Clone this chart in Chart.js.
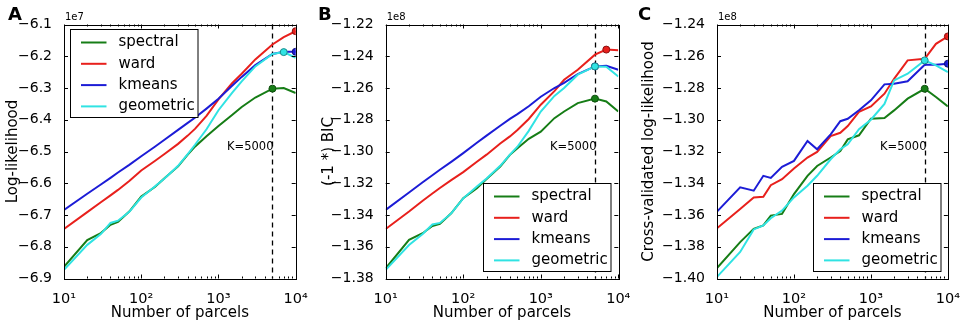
<!DOCTYPE html>
<html>
<head>
<meta charset="utf-8">
<script src="https://cdn.jsdelivr.net/npm/chart.js@4.4.0/dist/chart.umd.min.js"></script>
<style>
html, body { margin: 0; padding: 0; background: #fff; }
#wrap { position: relative; width: 964px; height: 323px; overflow: hidden; }
#wrap canvas { position: absolute; top: 0; }
</style>
</head>
<body>
<div id="wrap">
  <canvas id="chartA" width="316" height="323" style="left:0px"></canvas>
  <canvas id="chartB" width="320" height="323" style="left:316px"></canvas>
  <canvas id="chartC" width="328" height="323" style="left:636px"></canvas>
</div>
<script>
// number of parcels (x values, shared by all three panels)
const parcels = [10, 20, 30, 40, 50, 70, 100, 150, 200, 300, 400, 500, 700, 1000, 1500, 2000, 3000, 5000, 7000, 10000];
const methods = ['spectral', 'ward', 'kmeans', 'geometric'];
const xTickValues = [10, 100, 1000, 10000];
const xTickLabels = ['10¹', '10²', '10³', '10⁴'];
const kChosen = 5000;

// A: log-likelihood (x 1e7)
const llSpectral  = [-6.863, -6.779, -6.757, -6.731, -6.722, -6.689, -6.642, -6.612, -6.584, -6.547, -6.510, -6.484, -6.452, -6.420, -6.385, -6.360, -6.330, -6.302, -6.300, -6.316];
const llWard      = [-6.744, -6.691, -6.660, -6.638, -6.621, -6.593, -6.560, -6.530, -6.508, -6.476, -6.450, -6.428, -6.388, -6.336, -6.285, -6.255, -6.210, -6.163, -6.140, -6.121];
const llKmeans    = [-6.684, -6.633, -6.604, -6.583, -6.566, -6.542, -6.515, -6.485, -6.463, -6.432, -6.410, -6.393, -6.365, -6.334, -6.293, -6.265, -6.228, -6.193, -6.186, -6.186];
const llGeometric = [-6.873, -6.794, -6.760, -6.725, -6.718, -6.690, -6.645, -6.610, -6.585, -6.545, -6.508, -6.478, -6.430, -6.370, -6.315, -6.279, -6.232, -6.193, -6.187, -6.205];
const llTicks = [-6.9, -6.8, -6.7, -6.6, -6.5, -6.4, -6.3, -6.2, -6.1];
const llPeaks = [5000, 10000, 10000, 7000];

// B: (-1 *) BIC (x 1e8)
const bicSpectral  = [-1.3736, -1.3557, -1.3515, -1.3469, -1.3456, -1.3389, -1.3294, -1.3231, -1.3174, -1.3095, -1.3021, -1.2980, -1.2920, -1.2875, -1.2790, -1.2748, -1.2695, -1.2667, -1.2685, -1.2748];
const bicWard      = [-1.3488, -1.3378, -1.3310, -1.3265, -1.3230, -1.3180, -1.3130, -1.3065, -1.3020, -1.2950, -1.2905, -1.2865, -1.2795, -1.2705, -1.2620, -1.2548, -1.2485, -1.2390, -1.2358, -1.2362];
const bicKmeans    = [-1.3368, -1.3258, -1.3194, -1.3150, -1.3115, -1.3065, -1.3010, -1.2945, -1.2900, -1.2838, -1.2795, -1.2765, -1.2715, -1.2655, -1.2600, -1.2568, -1.2512, -1.2464, -1.2460, -1.2485];
const bicGeometric = [-1.3746, -1.3589, -1.3520, -1.3460, -1.3450, -1.3390, -1.3295, -1.3220, -1.3170, -1.3090, -1.3020, -1.2970, -1.2870, -1.2748, -1.2650, -1.2600, -1.2516, -1.2464, -1.2466, -1.2527];
const bicTicks = [-1.38, -1.36, -1.34, -1.32, -1.30, -1.28, -1.26, -1.24, -1.22];
const bicPeaks = [5000, 7000, 5000, 5000];

// C: cross-validated log-likelihood (x 1e8)
const cvSpectral  = [-1.3934, -1.3771, -1.3687, -1.3666, -1.3604, -1.3593, -1.3468, -1.3353, -1.3291, -1.3238, -1.3197, -1.3124, -1.3098, -1.2993, -1.2989, -1.2941, -1.2867, -1.2805, -1.2857, -1.2916];
const cvWard      = [-1.3683, -1.3562, -1.3489, -1.3485, -1.3412, -1.3374, -1.3307, -1.3238, -1.3203, -1.3103, -1.3082, -1.3040, -1.2950, -1.2916, -1.2836, -1.2742, -1.2626, -1.2616, -1.2522, -1.2475];
const cvKmeans    = [-1.3579, -1.3426, -1.3447, -1.3353, -1.3366, -1.3297, -1.3259, -1.3134, -1.3186, -1.3092, -1.3009, -1.2994, -1.2940, -1.2878, -1.2777, -1.2773, -1.2758, -1.2654, -1.2654, -1.2647];
const cvGeometric = [-1.3990, -1.3833, -1.3691, -1.3666, -1.3620, -1.3572, -1.3489, -1.3416, -1.3353, -1.3249, -1.3186, -1.3155, -1.3060, -1.3000, -1.2900, -1.2752, -1.2710, -1.2626, -1.2658, -1.2700];
const cvTicks = [-1.40, -1.38, -1.36, -1.34, -1.32, -1.30, -1.28, -1.26, -1.24];
const cvPeaks = [5000, 10000, 10000, 5000];

const FONT = 'DejaVu Sans';
const lineColors = ['#167d16', '#e8201c', '#1c1cd6', '#30e3e3'];
const edgeColors = ['#0d4d0d', '#8a1010', '#10107a', '#1b8a8a'];

function fmt(v, d) {
    return v.toFixed(d).replace('-', '\u2212');
}

// frame, inward ticks, K line, offset text, panel letter and legend
const panelPlugin = {
    id: 'panel',
    beforeDatasetsDraw(chart, args, opts) {
        const ctx = chart.ctx;
        const {top, bottom} = chart.chartArea;
        const px = Math.round(chart.scales.x.getPixelForValue(kChosen)) + 0.5;
        ctx.save();
        ctx.strokeStyle = '#000';
        ctx.lineWidth = 1.3;
        ctx.setLineDash([5, 4]);
        ctx.beginPath();
        ctx.moveTo(px, top);
        ctx.lineTo(px, bottom);
        ctx.stroke();
        ctx.restore();
        ctx.save();
        ctx.fillStyle = '#000';
        ctx.font = '11.5px ' + FONT;
        ctx.textAlign = 'right';
        ctx.textBaseline = 'middle';
        ctx.fillText('K=5000', px + 1, 147);
        ctx.restore();
    },
    afterDraw(chart, args, opts) {
        const ctx = chart.ctx;
        const {left, right, top, bottom} = chart.chartArea;
        const xs = chart.scales.x, ys = chart.scales.y;
        ctx.save();
        ctx.strokeStyle = '#000';
        ctx.lineWidth = 1;
        ctx.beginPath();
        for (const v of xTickValues) {
            const p = Math.round(xs.getPixelForValue(v)) + 0.5;
            ctx.moveTo(p, bottom); ctx.lineTo(p, bottom - 4);
            ctx.moveTo(p, top); ctx.lineTo(p, top + 4);
        }
        for (const d of [10, 100, 1000]) {
            for (let m = 2; m < 10; m++) {
                const p = Math.round(xs.getPixelForValue(d * m)) + 0.5;
                ctx.moveTo(p, bottom); ctx.lineTo(p, bottom - 2);
                ctx.moveTo(p, top); ctx.lineTo(p, top + 2);
            }
        }
        for (const v of opts.yTicks) {
            const p = Math.round(ys.getPixelForValue(v)) + 0.5;
            ctx.moveTo(left, p); ctx.lineTo(left + 4, p);
            ctx.moveTo(right, p); ctx.lineTo(right - 4, p);
        }
        ctx.stroke();
        ctx.strokeRect(Math.round(left) + 0.5, Math.round(top) + 0.5, Math.round(right - left), Math.round(bottom - top));

        ctx.fillStyle = '#000';
        ctx.font = '10px ' + FONT;
        ctx.textAlign = 'left';
        ctx.textBaseline = 'bottom';
        ctx.fillText(opts.offsetText, left + 1, top - 2);

        ctx.font = 'bold 18px ' + FONT;
        ctx.textBaseline = 'top';
        ctx.fillText(opts.letter, opts.letterX, 6);

        // legend
        const w = 127.5, h = 88;
        let bx, by;
        if (opts.legendAt === 'upper left') {
            bx = left + 5.5; by = top + 4;
        } else {
            bx = right - 7.5 - w; by = bottom - 7.5 - h;
        }
        bx = Math.round(bx) + 0.5; by = Math.round(by) + 0.5;
        ctx.fillStyle = '#fff';
        ctx.fillRect(bx, by, w, h);
        ctx.strokeStyle = '#000';
        ctx.strokeRect(bx, by, w, h);
        ctx.font = '15px ' + FONT;
        ctx.textBaseline = 'middle';
        chart.data.datasets.forEach((ds, i) => {
            const y = by + 13 + i * 21.3;
            ctx.strokeStyle = ds.borderColor;
            ctx.lineWidth = 2;
            ctx.beginPath();
            ctx.moveTo(bx + 10.5, y);
            ctx.lineTo(bx + 36, y);
            ctx.stroke();
            ctx.fillStyle = '#000';
            ctx.fillText(ds.label, bx + 48, y);
        });
        ctx.restore();
    }
};

function makePanel(canvasId, cfg) {
    const datasets = methods.map((m, i) => ({
        label: m,
        data: parcels.map((x, j) => ({x: x, y: cfg.series[i][j]})),
        borderColor: lineColors[i],
        backgroundColor: lineColors[i],
        borderWidth: 2,
        tension: 0,
        order: 3 - i,
        pointRadius: (c) => parcels[c.dataIndex] === cfg.peaks[i] ? 3.5 : 0,
        pointHoverRadius: 0,
        pointBackgroundColor: lineColors[i],
        pointBorderColor: edgeColors[i],
        pointBorderWidth: 1
    }));
    const yt = cfg.yTicks;
    return new Chart(document.getElementById(canvasId), {
        type: 'line',
        data: {datasets: datasets},
        options: {
            responsive: false,
            animation: false,
            events: [],
            layout: {padding: {left: 0, top: 24.5, right: cfg.padRight, bottom: 0}},
            plugins: {
                legend: {display: false},
                tooltip: {enabled: false},
                panel: cfg
            },
            scales: {
                x: {
                    type: 'logarithmic',
                    min: 10,
                    max: 10000,
                    afterBuildTicks: (s) => { s.ticks = xTickValues.map(v => ({value: v})); },
                    afterFit: (s) => { s.height = 44.5; },
                    grid: {display: false},
                    border: {display: false},
                    ticks: {
                        autoSkip: false, maxRotation: 0, padding: 4, color: '#000',
                        font: {family: FONT, size: 14.5},
                        callback: (v, i) => xTickLabels[i]
                    },
                    title: {
                        display: true, text: 'Number of parcels', color: '#000',
                        font: {family: FONT, size: 15}, padding: {top: 0, bottom: 1}
                    }
                },
                y: {
                    type: 'linear',
                    min: yt[0],
                    max: yt[yt.length - 1],
                    afterBuildTicks: (s) => { s.ticks = yt.map(v => ({value: v})); },
                    afterFit: (s) => { s.width = cfg.axisWidth; },
                    grid: {display: false},
                    border: {display: false},
                    ticks: {
                        autoSkip: false, padding: 4, color: '#000',
                        font: {family: FONT, size: 14},
                        callback: (v, i) => fmt(yt[i], cfg.decimals)
                    },
                    title: {
                        display: true, text: cfg.yLabel, color: '#000',
                        font: {family: FONT, size: 15}, padding: {top: 4, bottom: 0}
                    }
                }
            }
        },
        plugins: [panelPlugin]
    });
}

makePanel('chartA', {
    series: [llSpectral, llWard, llKmeans, llGeometric],
    peaks: llPeaks, yTicks: llTicks, decimals: 1,
    yLabel: 'Log-likelihood', offsetText: '1e7', letter: 'A', letterX: 8,
    axisWidth: 64, padRight: 20.3, legendAt: 'upper left'
});
makePanel('chartB', {
    series: [bicSpectral, bicWard, bicKmeans, bicGeometric],
    peaks: bicPeaks, yTicks: bicTicks, decimals: 2,
    yLabel: '(-1 *) BIC', offsetText: '1e8', letter: 'B', letterX: 2,
    axisWidth: 69.7, padRight: 17.7, legendAt: 'lower right'
});
makePanel('chartC', {
    series: [cvSpectral, cvWard, cvKmeans, cvGeometric],
    peaks: cvPeaks, yTicks: cvTicks, decimals: 2,
    yLabel: 'Cross-validated log-likelihood', offsetText: '1e8', letter: 'C', letterX: 2,
    axisWidth: 81, padRight: 14.5, legendAt: 'lower right'
});
</script>
</body>
</html>
